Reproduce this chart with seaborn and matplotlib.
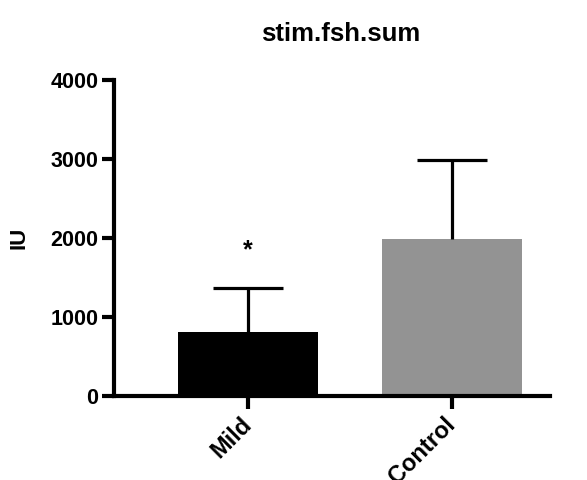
import matplotlib
matplotlib.use('Agg')
import matplotlib.pyplot as plt
import seaborn as sns
import pandas as pd

groups = ['Mild', 'Control']
means = [810, 1990]
sd_upper = [560, 1000]
bar_colors = ['#000000', '#939393']
y_ticks = [0, 1000, 2000, 3000, 4000]

sns.set_style('ticks')
plt.rcParams['font.family'] = ['Liberation Sans', 'DejaVu Sans']
plt.rcParams['font.weight'] = 'bold'
for key in ['text.color', 'axes.labelcolor', 'xtick.color', 'ytick.color', 'axes.edgecolor']:
    plt.rcParams[key] = 'black'

df = pd.DataFrame({'group': groups, 'IU': means})

fig = plt.figure(figsize=(5.87, 4.8), dpi=100)
ax = fig.add_axes([0.194, 0.175, 0.743, 0.658])

sns.barplot(data=df, x='group', y='IU', hue='group', palette=bar_colors,
            legend=False, errorbar=None, width=0.686, ax=ax, linewidth=0)
eb = ax.errorbar(range(len(groups)), means, yerr=[[0] * len(groups), sd_upper],
                 fmt='none', ecolor='black', elinewidth=2.3, capsize=25, capthick=2.3)
# only the upper caps, like Prism
eb[1][0].set_visible(False)

# significance mark over Mild
ax.text(0, 1850, '*', ha='center', va='center', fontsize=18, fontweight='bold')

ax.set_xlim(-0.657, 1.48)
ax.set_ylim(0, 4000)
ax.set_yticks(y_ticks)
ax.set_yticklabels([str(t) for t in y_ticks], fontsize=15.5, fontweight='bold')
ax.set_xticks(range(len(groups)))
ax.set_xticklabels(groups, rotation=45, ha='right', va='center',
                   rotation_mode='anchor', fontsize=17, fontweight='bold')
ax.set_xlabel('')
ax.set_ylabel('IU', fontsize=16, fontweight='bold', labelpad=15)
ax.set_title('stim.fsh.sum', fontsize=18.5, fontweight='bold', pad=28, x=0.521)

sns.despine(ax=ax)
for side in ['left', 'bottom']:
    ax.spines[side].set_linewidth(3)
ax.tick_params(width=3, length=9, pad=2)
ax.tick_params(axis='x', pad=9)

fig.savefig('out.png', dpi=100)
